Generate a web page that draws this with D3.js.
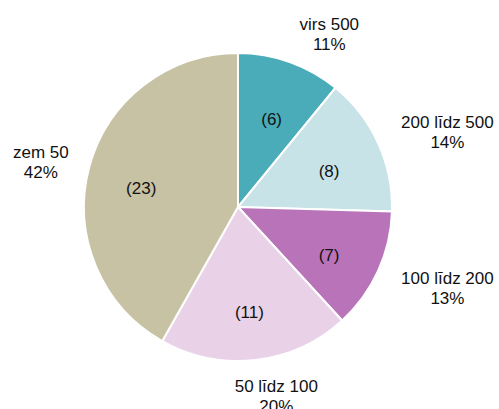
<!DOCTYPE html>
<html lang="lv">

<head>
    <meta charset="UTF-8">
    <script src="https://d3js.org/d3.v7.min.js"></script>
    <title>Pie</title>
    <style>
        body { margin: 0; background: #fff; }
        text { font-family: "Liberation Sans", Arial, sans-serif; font-size: 17px; fill: #111; }
    </style>
</head>

<body>
    <div id="app"></div>
    <script>
        const svg_width = 499;
        const svg_height = 409;

        // data
        const categories = ['virs 500', '200 līdz 500', '100 līdz 200', '50 līdz 100', 'zem 50'];
        const counts = [6, 8, 7, 11, 23];
        const percent_labels = ['11%', '14%', '13%', '20%', '42%'];
        const colors = ['#4aabb9', '#c8e3e8', '#b973b9', '#e9d1e8', '#c7c2a4'];

        const cx = 238, cy = 207, radius = 154;

        var svg = d3.select('#app')
            .append('svg')
            .attr('width', svg_width)
            .attr('height', svg_height)

        var g = svg.append('g').attr('transform', 'translate(' + cx + ',' + cy + ')')

        var pie = d3.pie().sort(null).value(function (d) { return d })
        var arcs = pie(counts)

        var arc = d3.arc().innerRadius(0).outerRadius(radius)

        function mid(d) { return (d.startAngle + d.endAngle) / 2 }

        g.selectAll('path')
            .data(arcs)
            .enter()
            .append('path')
            .attr('d', arc)
            .attr('fill', function (d, i) { return colors[i] })
            .attr('stroke', '#fff')
            .attr('stroke-width', 2)

        // counts inside slices
        g.selectAll('text.count')
            .data(arcs)
            .enter()
            .append('text')
            .attr('class', 'count')
            .attr('text-anchor', 'middle')
            .attr('dy', '0.35em')
            .attr('transform', function (d) {
                var a = mid(d)
                var rr = radius * 0.65
                return 'translate(' + (Math.sin(a) * rr) + ',' + (-Math.cos(a) * rr + 6) + ')'
            })
            .text(function (d) { return '(' + d.data + ')' })

        // outer labels
        var labels = g.selectAll('text.lab')
            .data(arcs)
            .enter()
            .append('text')
            .attr('class', 'lab')
            .attr('text-anchor', 'middle')

        labels.append('tspan')
            .attr('x', 0)
            .attr('y', -4)
            .text(function (d, i) { return categories[i] })
        labels.append('tspan')
            .attr('x', 0)
            .attr('y', 16)
            .text(function (d, i) { return percent_labels[i] })

        labels.attr('transform', function (d) {
            var a = mid(d)
            var w = this.getBBox().width
            var px = Math.sin(a) * radius * 1.15
            var py = -Math.cos(a) * radius * 1.15
            var k = Math.max(-1, Math.min(1, Math.sin(a) * 3.4))
            return 'translate(' + (px + k * w / 2 + 2) + ',' + (py - Math.cos(a) * 10 + 3) + ')'
        })
    </script>
</body>

</html>
